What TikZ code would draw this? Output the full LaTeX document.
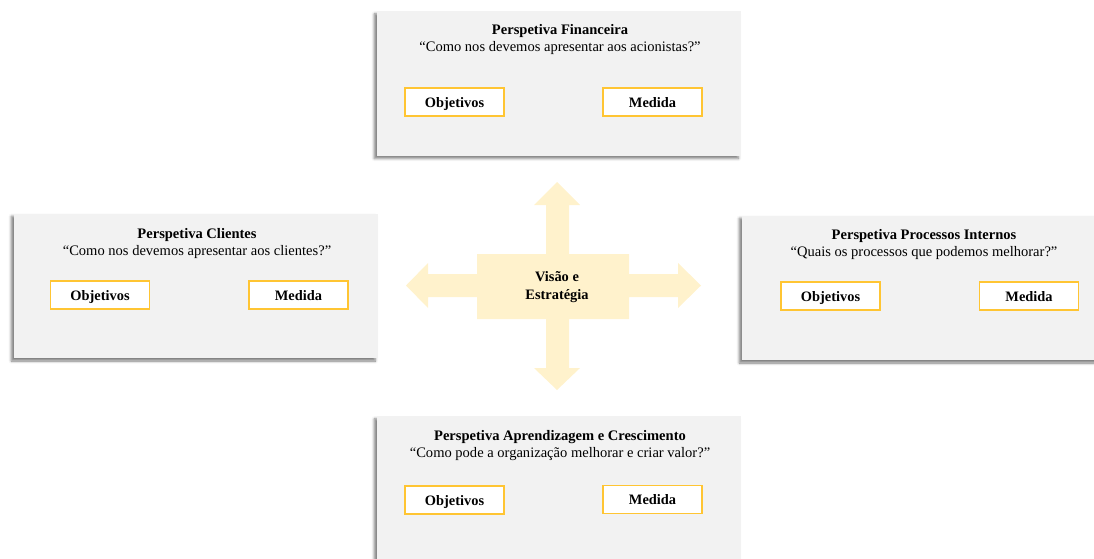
\documentclass[tikz,border=0pt]{standalone}
\usepackage{fontspec}
\setmainfont{Liberation Serif}
\usetikzlibrary{shadows.blur}
\definecolor{panelgray}{HTML}{F2F2F2}
\definecolor{goldline}{HTML}{FFC533}
\definecolor{crossfill}{HTML}{FFF2CC}
\tikzset{
  panel/.style={fill=panelgray, draw=none, minimum width=273pt, minimum height=108.5pt,
    inner sep=0pt, blur shadow={shadow xshift=-2pt, shadow yshift=-2pt, shadow blur radius=2pt, shadow opacity=50}},
  headtext/.style={align=center, font=\fontsize{10.9}{12.75}\selectfont, inner sep=0pt},
  tag/.style={fill=white, draw=goldline, line width=0.9pt, minimum width=74.25pt, minimum height=21pt,
    inner sep=0pt, text height=8.8pt, text depth=1.2pt, font=\fontsize{10.8}{12}\selectfont\bfseries},
  centretext/.style={align=center, font=\fontsize{10.8}{13.5}\selectfont\bfseries, inner sep=0pt}
}
\begin{document}
\begin{tikzpicture}[x=0.75pt,y=-0.75pt]
\useasboundingbox (0,0) rectangle (1094,558);
\clip (0,0) rectangle (1094,558);

% four perspective panels
\node[panel] (fin) at (559,83.5) {};
\node[panel] (cli) at (196,286) {};
\node[panel] (proc) at (924,288) {};
\node[panel] (apr) at (559,488.5) {};

% headings
\node[headtext] (finT) at (560,39.5) {\textbf{Perspetiva Financeira}\\“Como nos devemos apresentar aos acionistas?”};
\node[headtext] (cliT) at (197,243) {\textbf{Perspetiva Clientes}\\“Como nos devemos apresentar aos clientes?”};
\node[headtext] (procT) at (924,244.5) {\textbf{Perspetiva Processos Internos}\\“Quais os processos que podemos melhorar?”};
\node[headtext] (aprT) at (560,445.5) {\textbf{Perspetiva Aprendizagem e Crescimento}\\“Como pode a organização melhorar e criar valor?”};

% objective / measure tags
\node[tag] (finO) at (454.5,102) {Objetivos};
\node[tag] (finM) at (652.5,102) {Medida};
\node[tag] (cliO) at (100,295) {Objetivos};
\node[tag] (cliM) at (298.5,295) {Medida};
\node[tag] (procO) at (830.5,296) {Objetivos};
\node[tag] (procM) at (1029,296) {Medida};
\node[tag] (aprO) at (454.5,500) {Objetivos};
\node[tag] (aprM) at (652.5,499.5) {Medida};

% four-way arrow around the centre
\fill[crossfill] (557,182) -- (580,205) -- (569,205) -- (569,254) -- (629,254) -- (629,274)
  -- (678,274) -- (678,263) -- (701,285.5) -- (678,308) -- (678,297) -- (629,297)
  -- (629,319) -- (569,319) -- (569,368) -- (580,368) -- (557,390) -- (534,368)
  -- (546,368) -- (546,319) -- (477,319) -- (477,297) -- (428,297) -- (428,308)
  -- (406,285.5) -- (428,263) -- (428,274) -- (477,274) -- (477,254) -- (546,254)
  -- (546,205) -- (534,205) -- cycle;
\node[centretext] (core) at (557,287) {Visão e\\Estratégia};
\end{tikzpicture}
\end{document}
